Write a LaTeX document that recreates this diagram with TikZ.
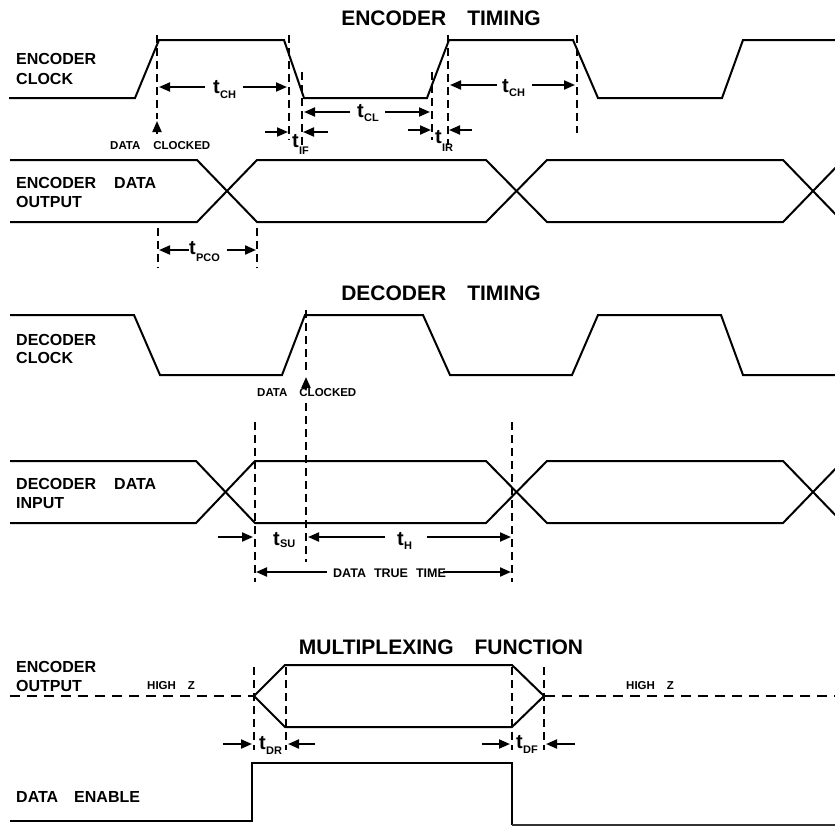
\documentclass[tikz,border=0pt]{standalone}
\usepackage{fontspec}
\setmainfont{Liberation Sans}
\usetikzlibrary{arrows.meta}
\newcommand{\tsb}[2]{t\kern0.2pt\raisebox{-#1pt}{\fontsize{11}{11}\selectfont #2}}
\tikzset{
  sig/.style={line width=2pt},
  dsh/.style={line width=1.9pt, dash pattern=on 8pt off 5pt},
  hz/.style={line width=2pt, dash pattern=on 10pt off 7pt},
  dim/.style={line width=2pt, -{Triangle[length=11pt,width=9pt]}},
  lbl/.style={font=\fontsize{16}{16}\selectfont\bfseries, anchor=west, inner sep=0pt},
  ttl/.style={font=\fontsize{21}{21}\selectfont\bfseries, inner sep=0pt},
  sml/.style={font=\fontsize{11.5}{11.5}\selectfont\bfseries, anchor=west, inner sep=0pt},
  tl/.style={font=\fontsize{20}{20}\selectfont\bfseries, anchor=base west, inner sep=0pt}
}
\begin{document}
\begin{tikzpicture}[x=1pt,y=-1pt]
\useasboundingbox (0,0) rectangle (835,827);
\begin{scope}
\clip (0,0) rectangle (835,827);
% ---------------- ENCODER TIMING ----------------
\node[ttl] (t1) at (441,18) {ENCODER\quad TIMING};
\node[lbl] (l1a) at (16,58.5) {ENCODER};
\node[lbl] (l1b) at (16,78.5) {CLOCK};
\draw[sig] (9,98) -- (135,98) -- (159,40) -- (284,40) -- (304,98) -- (427,98) -- (449,40) -- (573,40) -- (598,98) -- (722,98) -- (743,40) -- (835,40);
% dashed markers
\draw[dsh] (157,35) -- (157,119);
\draw[dsh] (289,35) -- (289,140);
\draw[dsh] (302,72) -- (302,145);
\draw[dsh] (432,72) -- (432,140);
\draw[dsh] (448,35) -- (448,145);
\draw[dsh] (577,35) -- (577,133);
\draw[dim] (157,134) -- (157,121);
\node[sml] (dc1) at (110,146) {DATA\hspace{13pt}CLOCKED};
% tCH
\draw[dim] (205,87) -- (159,87);
\node[tl] (tch1) at (213,93) {\tsb{5}{CH}};
\draw[dim] (243,87) -- (287,87);
% tCL
\draw[dim] (350,112) -- (304,112);
\node[tl] (tcl) at (357,117) {\tsb{4}{CL}};
\draw[dim] (385,112) -- (430,112);
% tIF
\draw[dim] (265,132) -- (288,132);
\draw[dim] (328,132) -- (303,132);
\node[tl] (tif) at (292,147) {\tsb{7}{IF}};
% tIR
\draw[dim] (408,130) -- (431,130);
\draw[dim] (472,130) -- (449,130);
\node[tl] (tir) at (435,143) {\tsb{8}{IR}};
% tCH 2
\draw[dim] (497,85) -- (450,85);
\node[tl] (tch2) at (502,92) {\tsb{4}{CH}};
\draw[dim] (532,85) -- (575,85);
% encoder data output
\node[lbl] (l2a) at (16,182.5) {ENCODER\hspace{18pt}DATA};
\node[lbl] (l2b) at (16,202) {OUTPUT};
\draw[sig] (10,160) -- (197,160) -- (257,222) -- (486,222) -- (547,160) -- (783,160) -- (843,222);
\draw[sig] (10,222) -- (197,222) -- (257,160) -- (486,160) -- (547,222) -- (783,222) -- (843,160);
\draw[dsh] (158,228) -- (158,268);
\draw[dsh] (257,228) -- (257,268);
\draw[dim] (189,250) -- (159,250);
\node[tl] (tpco) at (189,254) {\tsb{7}{PCO}};
\draw[dim] (227,250) -- (256,250);
% ---------------- DECODER TIMING ----------------
\node[ttl] (t2) at (441,293) {DECODER\quad TIMING};
\node[lbl] (l3a) at (16,340) {DECODER};
\node[lbl] (l3b) at (16,358) {CLOCK};
\draw[sig] (10,315) -- (134,315) -- (160,375) -- (282,375) -- (305,315) -- (423,315) -- (450,375) -- (572,375) -- (598,315) -- (721,315) -- (743,375) -- (835,375);
\draw[dsh] (306,310) -- (306,374);
\draw[dim] (306,388) -- (306,377);
\node[sml] (dc2) at (257,393) {DATA\hspace{12pt}CLOCKED};
\draw[dsh] (306,403) -- (306,562);
\node[lbl] (l4a) at (16,484) {DECODER\hspace{18pt}DATA};
\node[lbl] (l4b) at (16,503) {INPUT};
\draw[sig] (10,461) -- (196,461) -- (255,523) -- (486,523) -- (547,461) -- (783,461) -- (843,523);
\draw[sig] (10,523) -- (196,523) -- (255,461) -- (486,461) -- (547,523) -- (783,523) -- (843,461);
\draw[dsh] (255,422) -- (255,582);
\draw[dsh] (512,422) -- (512,582);
% tSU
\draw[dim] (218,537) -- (253,537);
\node[tl] (tsu) at (273,545) {\tsb{2}{SU}};
% tH
\draw[dim] (385,537) -- (308,537);
\node[tl] (th) at (397,545) {\tsb{4}{H}};
\draw[dim] (427,537) -- (511,537);
% data true time
\draw[dim] (327,572) -- (256,572);
\node[font=\fontsize{12.5}{12.5}\selectfont\bfseries, anchor=west, inner sep=0pt] (dtt) at (333,573) {DATA\hspace{8pt}TRUE\hspace{8pt}TIME};
\draw[dim] (443,572) -- (511,572);
% ---------------- MULTIPLEXING FUNCTION ----------------
\node[ttl] (t3) at (441,647) {MULTIPLEXING\quad FUNCTION};
\node[lbl] (l5a) at (16,667) {ENCODER};
\node[lbl] (l5b) at (16,686) {OUTPUT};
\node[sml] (hz1) at (147,686) {HIGH\hspace{12pt}Z};
\node[sml] (hz2) at (626,686) {HIGH\hspace{12pt}Z};
\draw[hz] (10,696) -- (254,696);
\draw[hz] (545,696) -- (835,696);
\draw[sig] (254,696) -- (285,665) -- (512,665) -- (544,696) -- (512,727) -- (285,727) -- cycle;
\draw[dsh] (254,667) -- (254,750);
\draw[dsh] (286,667) -- (286,750);
\draw[dsh] (512,667) -- (512,750);
\draw[dsh] (544,667) -- (544,750);
% tDR
\draw[dim] (223,744) -- (252,744);
\node[tl] (tdr) at (259,749) {\tsb{5}{DR}};
\draw[dim] (315,744) -- (288,744);
% tDF
\draw[dim] (482,744) -- (510,744);
\node[tl] (tdf) at (516,748) {\tsb{5}{DF}};
\draw[dim] (575,744) -- (546,744);
% data enable
\node[lbl] (l6) at (16,797) {DATA\quad ENABLE};
\draw[sig] (10,821) -- (252,821) -- (252,763) -- (512,763) -- (512,825);
\draw[line width=1.5pt, black!80] (512,825) -- (835,825);
\end{scope}
\end{tikzpicture}
\end{document}
